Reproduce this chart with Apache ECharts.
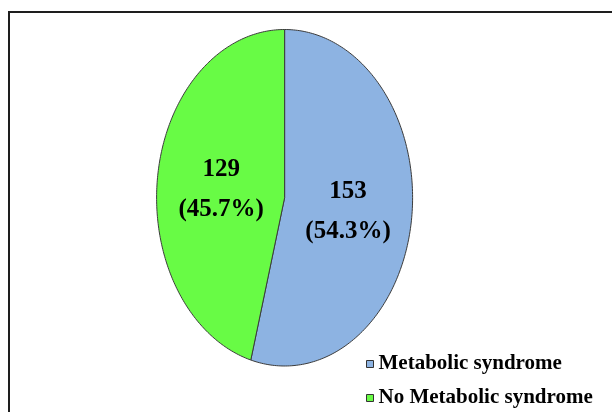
<!DOCTYPE html>
<html>
<head>
<meta charset="utf-8">
<script src="https://cdn.jsdelivr.net/npm/echarts@6/dist/echarts.min.js"></script>
<style>
html,body{margin:0;padding:0;background:#fff;}
#chart{width:612px;height:412px;}
</style>
</head>
<body>
<div id="chart"></div>
<script>
const categories = ['Metabolic syndrome', 'No Metabolic syndrome'];
const counts = [153, 129];
const sliceColors = ['#8DB3E2', '#68FB45'];

const total = counts.reduce((a, b) => a + b, 0);
const starts = [];
let acc = 0;
counts.forEach(v => { starts.push(acc); acc += v; });

function renderSlice(params, api) {
  const i = params.seriesIndex;
  const a0 = starts[i] / total * 2 * Math.PI;
  const a1 = (starts[i] + counts[i]) / total * 2 * Math.PI;
  const pts = [api.coord([0, 0])];
  const n = 200;
  for (let k = 0; k <= n; k++) {
    const t = a0 + (a1 - a0) * k / n;
    pts.push(api.coord([Math.sin(t), Math.cos(t)]));
  }
  const mid = (a0 + a1) / 2;
  const lp = api.coord([0.5 * Math.sin(mid), 0.5 * Math.cos(mid)]);
  const pct = (counts[i] / total * 100).toFixed(1);
  return {
    type: 'group',
    children: [
      {
        type: 'polygon',
        shape: { points: pts },
        style: { fill: api.visual('color'), stroke: '#3c3c3c', lineWidth: 1 }
      },
      {
        type: 'text',
        x: lp[0], y: lp[1] + 3,
        z2: 10,
        style: {
          text: counts[i] + '\n(' + pct + '%)',
          fill: '#000',
          font: 'bold 25px "Liberation Serif"',
          lineHeight: 40,
          align: 'center',
          verticalAlign: 'middle'
        }
      }
    ]
  };
}

const chart = echarts.init(document.getElementById('chart'));
chart.setOption({
  animation: false,
  backgroundColor: '#fff',
  grid: { left: 156.6, width: 256, top: 29.5, height: 336.5 },
  xAxis: { type: 'value', min: -1, max: 1, show: false },
  yAxis: { type: 'value', min: -1, max: 1, show: false },
  legend: {
    orient: 'vertical',
    left: 366, top: 351,
    padding: 0,
    itemGap: 8,
    itemWidth: 7, itemHeight: 7,
    icon: 'rect',
    itemStyle: { borderColor: '#333', borderWidth: 1 },
    textStyle: {
      fontFamily: 'Liberation Serif', fontWeight: 'bold', fontSize: 21,
      color: '#000', lineHeight: 26
    },
    data: categories
  },
  graphic: [{
    type: 'rect',
    shape: { x: 9, y: 12, width: 700, height: 500 },
    style: { fill: 'none', stroke: '#1e1e1e', lineWidth: 2 },
    z: 100
  }],
  series: categories.map((name, i) => ({
    type: 'custom',
    name: name,
    coordinateSystem: 'cartesian2d',
    itemStyle: { color: sliceColors[i] },
    renderItem: renderSlice,
    data: [[0, 0]]
  }))
});
</script>
</body>
</html>
